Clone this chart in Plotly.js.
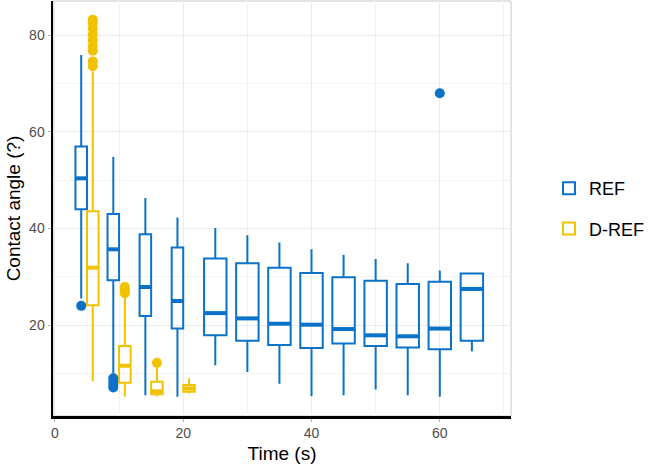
<!DOCTYPE html>
<html>
<head>
<meta charset="utf-8">
<script src="https://cdn.plot.ly/plotly-3.0.1.min.js"></script>
<style>
  html, body { margin: 0; padding: 0; background: #fff; }
  #chart { width: 664px; height: 469px; }
</style>
</head>
<body>
<div id="chart"></div>
<script>
// sampling times (s)
var refTimes = [5, 10, 15, 20, 25, 30, 35, 40, 45, 50, 55, 60, 65];
var drefTimes = [5, 10, 15, 20];

// REF box statistics
var refLower  = [25.5, 10.0, 5.5, 5.2, 11.7, 10.3, 7.9, 5.3, 5.5, 6.7, 5.5, 5.2, 14.6];
var refQ1     = [44.0, 29.3, 21.9, 19.3, 17.9, 16.8, 15.9, 15.3, 16.2, 15.7, 15.4, 15.0, 16.8];
var refMedian = [50.4, 35.7, 27.9, 25.0, 22.5, 21.4, 20.3, 20.1, 19.2, 17.9, 17.7, 19.3, 27.5];
var refQ3     = [57.0, 43.0, 38.8, 36.1, 33.8, 32.8, 31.9, 30.8, 29.9, 29.2, 28.5, 29.0, 30.7];
var refUpper  = [75.9, 54.8, 46.3, 42.3, 40.1, 38.6, 37.1, 35.7, 34.6, 33.7, 32.8, 31.3, 30.7];

// D-REF box statistics
var drefLower  = [8.4, 5.2, 5.3, 5.9];
var drefQ1     = [24.1, 8.1, 5.7, 6.2];
var drefMedian = [31.9, 11.6, 6.3, 6.9];
var drefQ3     = [43.6, 15.7, 8.3, 7.6];
var drefUpper  = [72.5, 26.2, 11.5, 9.0];

// outliers
var refOutT = [5, 10, 10, 10, 10, 60];
var refOutY = [24.0, 9.0, 8.3, 7.6, 7.1, 68.0];
var drefOutT = [5, 5, 5, 5, 5, 5, 5, 5, 5, 10, 10, 10, 15];
var drefOutY = [83.2, 82.5, 81.4, 80.2, 79.0, 77.8, 76.8, 74.6, 73.6, 27.9, 27.3, 26.6, 12.2];

var blue = '#0A72C8';
var yellow = '#F2C200';
var narrow = 1.8;   // dodged box width
var wide = 3.5;     // single box width
var dodge = narrow / 2;

// REF boxes before 25 s share the slot with D-REF
function pos(t, grp) {
  if (grp === 'ref') return t <= 20 ? t - dodge : t;
  return t + dodge;
}

function pick(arr, idx) { return idx.map(function(i) { return arr[i]; }); }

var early = [], late = [];
refTimes.forEach(function(t, i) { (t <= 20 ? early : late).push(i); });

function boxTrace(name, idx, src, grp, color, w, show) {
  return {
    type: 'box',
    name: name,
    legendgroup: name,
    showlegend: show,
    x: pick(src.t, idx).map(function(t) { return pos(t, grp); }),
    q1: pick(src.q1, idx),
    median: pick(src.med, idx),
    q3: pick(src.q3, idx),
    lowerfence: pick(src.lo, idx),
    upperfence: pick(src.hi, idx),
    width: w,
    whiskerwidth: 0,
    boxpoints: false,
    line: {color: color, width: 2},
    fillcolor: 'rgba(255,255,255,0)',
    hoverinfo: 'skip'
  };
}

var refSrc = {t: refTimes, q1: refQ1, med: refMedian, q3: refQ3, lo: refLower, hi: refUpper};
var drefSrc = {t: drefTimes, q1: drefQ1, med: drefMedian, q3: drefQ3, lo: drefLower, hi: drefUpper};
var drefIdx = drefTimes.map(function(t, i) { return i; });

// thick median bars like ggplot
function medianTrace(times, meds, grp, color) {
  var xs = [], ys = [];
  times.forEach(function(t, i) {
    var c = pos(t, grp);
    var w = (grp === 'ref' && t > 20) ? wide : narrow;
    xs.push(c - w / 2, c + w / 2, null);
    ys.push(meds[i], meds[i], null);
  });
  return {type: 'scatter', mode: 'lines', x: xs, y: ys, showlegend: false,
    line: {color: color, width: 4}, hoverinfo: 'skip'};
}

var data = [
  boxTrace('REF', early, refSrc, 'ref', blue, narrow, true),
  boxTrace('REF', late, refSrc, 'ref', blue, wide, false),
  boxTrace('D-REF', drefIdx, drefSrc, 'dref', yellow, narrow, true),
  medianTrace(refTimes, refMedian, 'ref', blue),
  medianTrace(drefTimes, drefMedian, 'dref', yellow),
  {type: 'scatter', mode: 'markers', showlegend: false, hoverinfo: 'skip',
    x: refOutT.map(function(t) { return pos(t, 'ref'); }), y: refOutY,
    marker: {color: blue, size: 10}},
  {type: 'scatter', mode: 'markers', showlegend: false, hoverinfo: 'skip',
    x: drefOutT.map(function(t) { return pos(t, 'dref'); }), y: drefOutY,
    marker: {color: yellow, size: 10}}
];

var layout = {
  width: 664,
  height: 469,
  margin: {l: 53, r: 153, t: 1, b: 53},
  paper_bgcolor: '#fff',
  plot_bgcolor: '#fff',
  boxmode: 'overlay',
  font: {family: 'Liberation Sans, Arial, sans-serif', color: '#4D4D4D', size: 14},
  xaxis: {
    range: [-0.3, 71.1],
    dtick: 20,
    tick0: 0,
    showgrid: true,
    gridcolor: '#EBEBEB',
    minor: {dtick: 10, showgrid: true, gridcolor: '#F2F2F2'},
    zeroline: false,
    showline: true,
    linecolor: '#000',
    linewidth: 2.5,
    ticks: 'outside',
    ticklen: 3,
    tickcolor: '#B3B3B3',
    title: {text: 'Time (s)', font: {size: 19, color: '#000'}, standoff: 7}
  },
  yaxis: {
    range: [1.2, 87.1],
    dtick: 20,
    tick0: 0,
    showgrid: true,
    gridcolor: '#EBEBEB',
    minor: {dtick: 10, showgrid: true, gridcolor: '#F2F2F2'},
    zeroline: false,
    showline: true,
    linecolor: '#000',
    linewidth: 2.5,
    ticks: 'outside',
    ticklen: 3,
    tickcolor: '#B3B3B3',
    title: {text: 'Contact angle (?)', font: {size: 19, color: '#000'}, standoff: 4}
  },
  shapes: [{
    type: 'rect', xref: 'paper', yref: 'paper', x0: 0, x1: 1, y0: 0, y1: 1,
    line: {color: '#C8C8C8', width: 1}, layer: 'below'
  }],
  legend: {
    x: 1.083, y: 0.5, xanchor: 'left', yanchor: 'middle',
    font: {size: 18, color: '#000'},
    traceorder: 'grouped',
    tracegroupgap: 14,
    bgcolor: 'rgba(0,0,0,0)'
  },
  showlegend: true
};

Plotly.newPlot('chart', data, layout, {staticPlot: true, displayModeBar: false});
</script>
</body>
</html>
